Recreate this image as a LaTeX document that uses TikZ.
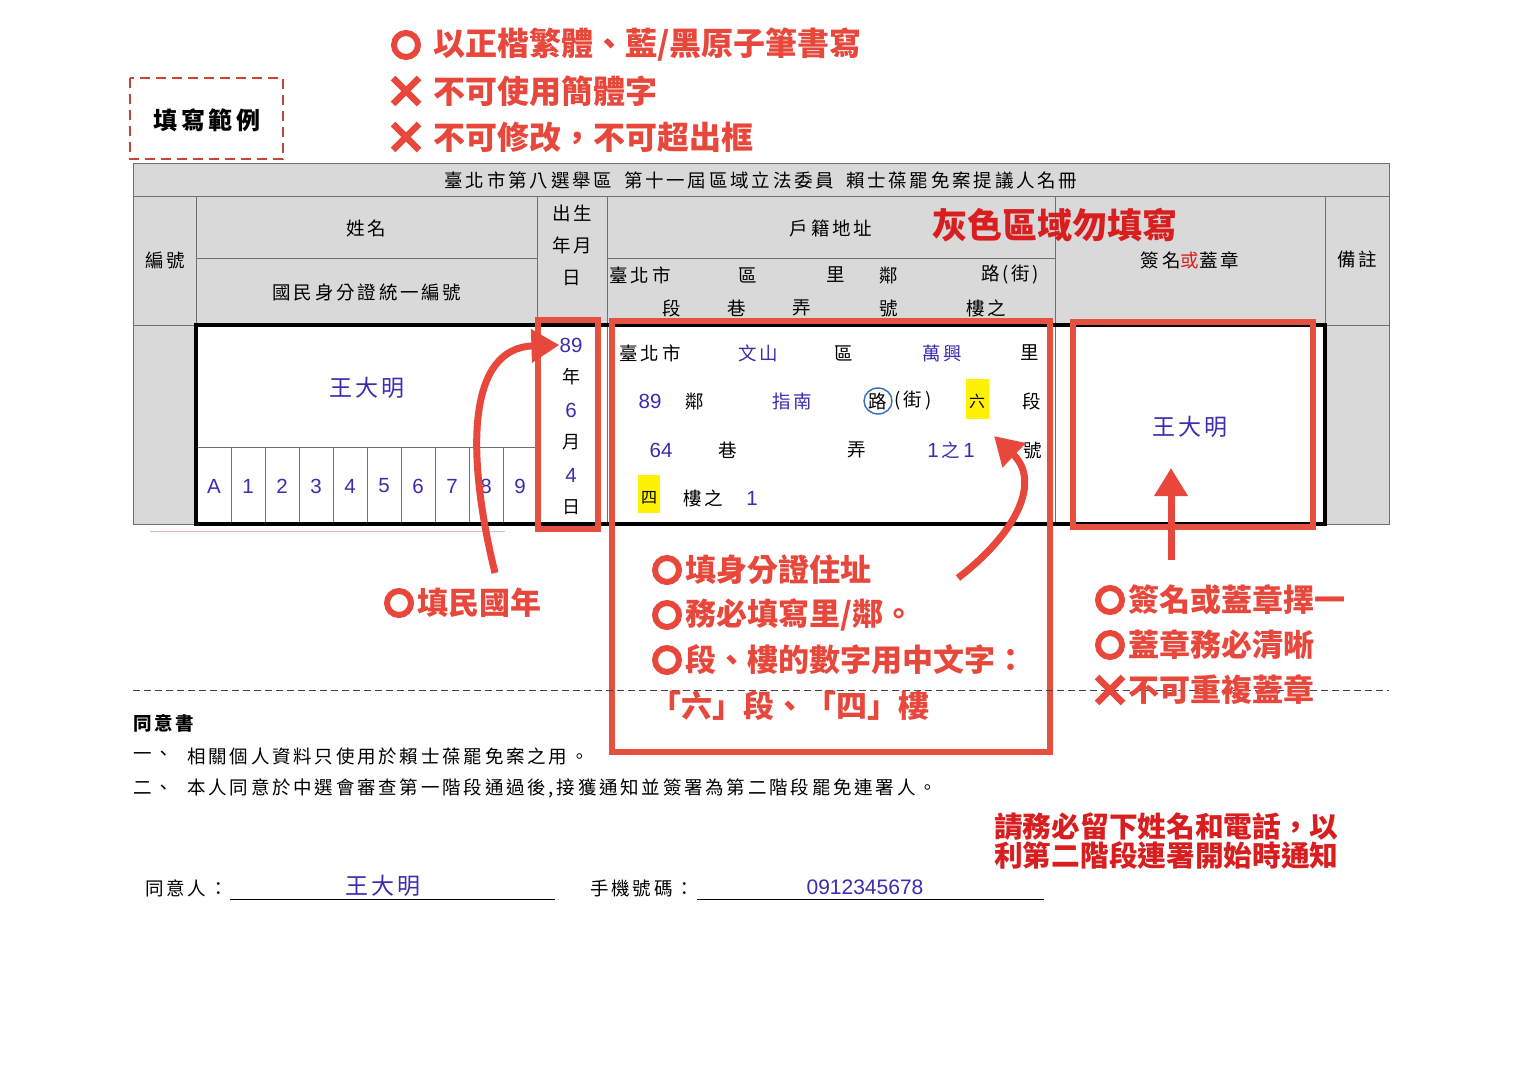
\documentclass[tikz,border=0pt]{standalone}
\usepackage{fontspec}
\setmainfont{Noto Sans CJK TC}
\newfontfamily\cjksp[LetterSpace=15]{Noto Sans CJK TC}
\newfontfamily\cjkspb[LetterSpace=12]{Noto Sans CJK TC}
\newfontfamily\latinf{Liberation Sans}
\usetikzlibrary{arrows.meta}
\definecolor{annred}{HTML}{E8483C}
\definecolor{boxred}{HTML}{E6503F}
\definecolor{deepred}{HTML}{D81E1E}
\definecolor{inkblue}{HTML}{3A2DB0}
\definecolor{hdrgray}{HTML}{D9D9D9}
\definecolor{gridgray}{HTML}{707070}
\definecolor{hlyellow}{HTML}{FFF200}
\definecolor{circblue}{HTML}{2A6FC9}
\definecolor{pinkline}{HTML}{E8B4B4}
\begin{document}
\begin{tikzpicture}[x=1pt,y=-1pt,
  hdr/.style={font=\cjksp\fontsize{18.5}{20}\selectfont, inner sep=0pt},
  ink/.style={font=\cjksp\fontsize{18.5}{20}\selectfont, text=inkblue, inner sep=0pt},
  bigink/.style={font=\cjkspb\fontsize{23}{25}\selectfont, text=inkblue, inner sep=0pt},
  num/.style={font=\latinf\fontsize{20.5}{22}\selectfont, text=inkblue, inner sep=0pt},
  ann/.style={font=\bfseries\fontsize{31}{33}\selectfont, text=annred, inner sep=0pt, anchor=west},
  ring/.style={draw=annred, line width=6pt, circle, minimum size=24pt, inner sep=0pt},
  redbox/.style={draw=boxred, line width=6pt},
  gridline/.style={draw=gridgray, line width=0.8pt},
  arr/.style={draw=annred, line width=7pt, -{Triangle[length=28pt,width=32pt]}},
  hl/.style={fill=hlyellow, inner sep=0pt},
  xmk/.pic={\draw[annred, line width=6.5pt] (-13,-13)--(13,13) (-13,13)--(13,-13);}
]
\useasboundingbox (0,0) rectangle (1522,1076);
\fill[white] (0,0) rectangle (1522,1076);

% ---------- example box and rules ----------
\draw[boxred!85!black, line width=2.5pt, dash pattern=on 10pt off 6pt] (130,78) rectangle (283,159);
\node[font=\bfseries\cjksp\fontsize{24}{26}\selectfont, inner sep=0pt] (ex) at (207,120) {填寫範例};

\node[ring] (r1) at (406,45) {};
\node[ann, font=\bfseries\fontsize{32}{34}\selectfont] (t1) at (433,45) {以正楷繁體、藍/黑原子筆書寫};
\pic at (406,91) {xmk};
\node[ann, font=\bfseries\fontsize{32}{34}\selectfont] (t2) at (433,91) {不可使用簡體字};
\pic at (406,137) {xmk};
\node[ann, font=\bfseries\fontsize{32}{34}\selectfont] (t3) at (433,137) {不可修改，不可超出框};

% ---------- table backgrounds ----------
\fill[hdrgray] (133,163) rectangle (1389,325);
\fill[hdrgray] (133,325) rectangle (196,524);
\fill[hdrgray] (1325,325) rectangle (1389,524);

% ---------- grid ----------
\draw[gridline] (133,163) rectangle (1389,524);
\draw[gridline] (133,196) -- (1389,196);
\draw[gridline] (133,325) -- (1389,325);
\draw[gridline] (196,196) -- (196,524);
\draw[gridline] (537,196) -- (537,524);
\draw[gridline] (607,196) -- (607,524);
\draw[gridline] (1055,196) -- (1055,524);
\draw[gridline] (1325,196) -- (1325,524);
\draw[gridline] (196,258) -- (537,258);
\draw[gridline] (607,258) -- (1055,258);
\draw[gridline] (196,447) -- (537,447);
\foreach \i in {1,...,9} \draw[gridline] ({197+34*\i},447) -- ({197+34*\i},524);
\draw[line width=3.5pt] (196,325) rectangle (1325,524);
\draw[pinkline, line width=1pt] (150,531) -- (505,531);

% ---------- header texts ----------
\node[hdr] (title) at (761,180) {臺北市第八選舉區\hspace{12pt}第十一屆區域立法委員\hspace{12pt}賴士葆罷免案提議人名冊};
\node[hdr] (hno) at (165,260) {編號};
\node[hdr] (hname) at (366,228) {姓名};
\node[hdr] (hid) at (367,292) {國民身分證統一編號};
\node[hdr] (hb1) at (572,213) {出生};
\node[hdr] (hb2) at (572,245) {年月};
\node[hdr] (hb3) at (572,278) {日};
\node[hdr] (haddr) at (831,228) {戶籍地址};
\node[hdr] (ha1) at (640,275) {臺北市};
\node[hdr] (ha2) at (748,275) {區};
\node[hdr] (ha3) at (836,275) {里};
\node[hdr] (ha4) at (889,275) {鄰};
\node[hdr] (ha5) at (1010,275) {路(街)};
\node[hdr] (hb_1) at (672,308) {段};
\node[hdr] (hb_2) at (737,308) {巷};
\node[hdr] (hb_3) at (802,308) {弄};
\node[hdr] (hb_4) at (889,308) {號};
\node[hdr] (hb_5) at (986,308) {樓之};
\node[hdr] (hsig) at (1190,260) {簽名{\color{deepred}或}蓋章};
\node[hdr] (hnote) at (1357,260) {備註};
\node[font=\bfseries\fontsize{35}{37}\selectfont, text=deepred, inner sep=0pt] (gray) at (1055,225) {灰色區域勿填寫};

% ---------- data ----------
\node[bigink] (name) at (367,388) {王大明};
\foreach \c [count=\k from 0] in {A,1,2,3,4,5,6,7,8,9}
  \node[num] (id\k) at ({214+34*\k},486) {\c};
\node[num] (b89) at (571,345) {89};
\node[hdr, font=\fontsize{18}{20}\selectfont] (byr) at (571,377) {年};
\node[num] (b6) at (571,410) {6};
\node[hdr, font=\fontsize{18}{20}\selectfont] (bmo) at (571,442) {月};
\node[num] (b4) at (571,475) {4};
\node[hdr, font=\fontsize{18}{20}\selectfont] (bdy) at (571,507) {日};

\node[hdr] (d11) at (650,353) {臺北市};
\node[ink] (d12) at (758,353) {文山};
\node[hdr] (d13) at (844,353) {區};
\node[ink] (d14) at (942,353) {萬興};
\node[hdr] (d15) at (1030,353) {里};
\node[num] (d21) at (650,401) {89};
\node[hdr] (d22) at (695,401) {鄰};
\node[ink] (d23) at (792,401) {指南};
\node[hdr] (d24) at (878,401) {路};
\draw[circblue, line width=1.4pt] (d24) ellipse [x radius=14, y radius=13];
\node[hdr] (d25) at (913,401) {(街)};
\node[hl, minimum width=23pt, minimum height=40pt] (hl6) at (977,399) {};
\node[hdr, font=\fontsize{16}{18}\selectfont] (d26) at (977,401) {六};
\node[hdr] (d27) at (1032,401) {段};
\node[num] (d31) at (661,450) {64};
\node[hdr] (d32) at (728,450) {巷};
\node[hdr] (d33) at (857,450) {弄};
\node[ink, font=\fontsize{18.5}{20}\selectfont] (d34) at (951,450) {{\latinf\fontsize{20.5}{22}\selectfont 1}\,之\,{\latinf\fontsize{20.5}{22}\selectfont 1}};
\node[hdr] (d35) at (1033,450) {號};
\node[hl, minimum width=22pt, minimum height=38pt] (hl4) at (649,494) {};
\node[hdr, font=\fontsize{16}{18}\selectfont] (d41) at (649,498) {四};
\node[hdr] (d42) at (703,498) {樓之};
\node[num] (d43) at (752,498) {1};
\node[bigink] (sig) at (1190,427) {王大明};

% ---------- red boxes ----------
\draw[redbox] (538,320) rectangle (598,529);
\draw[redbox] (612,321) rectangle (1050,752);
\draw[redbox] (1073,322) rectangle (1313,527);

% ---------- dashed separator ----------
\draw[gridgray!60!black, line width=0.8pt, dash pattern=on 7pt off 4pt] (133,690) -- (1389,690);

% ---------- annotations ----------
\node[ring] (r2) at (399,603) {};
\node[ann] (n1) at (417,603) {填民國年};
\node[ring] (r3) at (667,570) {};
\node[ann] (n2) at (685,570) {填身分證住址};
\node[ring] (r4) at (667,615) {};
\node[ann] (n3) at (685,615) {務必填寫里/鄰。};
\node[ring] (r5) at (667,660) {};
\node[ann] (n4) at (685,660) {段、樓的數字用中文字：};
\node[ann] (n5) at (650,706) {「六」段、「四」樓};
\node[ring] (r6) at (1110,600) {};
\node[ann] (n6) at (1128,600) {簽名或蓋章擇一};
\node[ring] (r7) at (1110,645) {};
\node[ann] (n7) at (1128,645) {蓋章務必清晰};
\pic at (1110,690) {xmk};
\node[ann] (n8) at (1128,690) {不可重複蓋章};

% ---------- arrows ----------
\coordinate (a1s) at (495,573);
\coordinate (a2s) at (958,578);
\coordinate (a2e) at (994,436);
\coordinate (a3s) at (1171,560);
\coordinate (a3e) at (1171,468);
\draw[arr] (a1s) .. controls (465,450) and (468,348) .. (b89.west);
\draw[arr] (a2s) .. controls (1020,530) and (1040,480) .. (a2e);
\draw[arr] (a3s) -- (a3e);

% ---------- consent ----------
\node[font=\bfseries\cjksp\fontsize{18.5}{20}\selectfont, inner sep=0pt, anchor=west] (cons) at (133,723) {同意書};
\node[hdr, anchor=west] (c1a) at (133,756) {一、};
\node[hdr, anchor=west] (c1b) at (187,756) {相關個人資料只使用於賴士葆罷免案之用。};
\node[hdr, anchor=west] (c2a) at (133,788) {二、};
\node[hdr, anchor=west] (c2b) at (187,788) {本人同意於中選會審查第一階段通過後,接獲通知並簽署為第二階段罷免連署人。};
\node[font=\bfseries\fontsize{28.7}{29}\selectfont, text=deepred, inner sep=0pt, align=left, anchor=north west] (note) at (994,812) {請務必留下姓名和電話，以\\利第二階段連署開始時通知};
\node[hdr, anchor=west] (agr) at (145,888) {同意人：};
\draw (230,899) -- (555,899);
\node[bigink] (agname) at (383,886) {王大明};
\node[hdr, anchor=west] (ph) at (590,888) {手機號碼：};
\draw (697,899) -- (1044,899);
\node[num, font=\latinf\fontsize{21}{23}\selectfont] (phn) at (865,887) {0912345678};
\end{tikzpicture}
\end{document}
